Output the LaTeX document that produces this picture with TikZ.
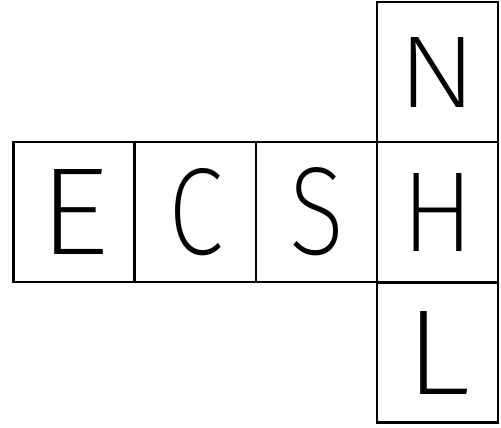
\documentclass[tikz,border=0pt]{standalone}
\usepackage{fontspec}
\usepackage{tikz}
\usetikzlibrary{positioning}
\newfontfamily\cellfont{Fira Sans ExtraLight}
% letter stretched to a given width and height (in px of the picture)
\newcommand{\cellchar}[3]{\resizebox{#1\dimexpr0.02cm\relax}{#2\dimexpr0.02cm\relax}{#3}}

\begin{document}
\begin{tikzpicture}[x=0.02cm, y=-0.02cm,
  cell/.style={draw, line width=1.6pt, minimum width=2.42cm, minimum height=2.8cm,
               inner sep=0pt, font=\cellfont\fontsize{60}{60}\selectfont},
]
  \useasboundingbox (0,0) rectangle (501,427);
  %% Middle row
  \node[cell] (e) at (74,212)    {\cellchar{71}{85}{E}};
  \node[cell] (c) at (195.5,212) {\cellchar{55}{86}{C}};
  \node[cell] (s) at (316.5,212) {\cellchar{55}{87}{S}};
  \node[cell] (h) at (437.5,212) {\cellchar{73}{78}{H}};
  %% Column above and below
  \node[cell] (n) at (437.5,72)    {\cellchar{80}{70}{N}};
  \node[cell] (l) at (437.5,352.5) {\cellchar{66}{83}{L}};
\end{tikzpicture}
\end{document}
